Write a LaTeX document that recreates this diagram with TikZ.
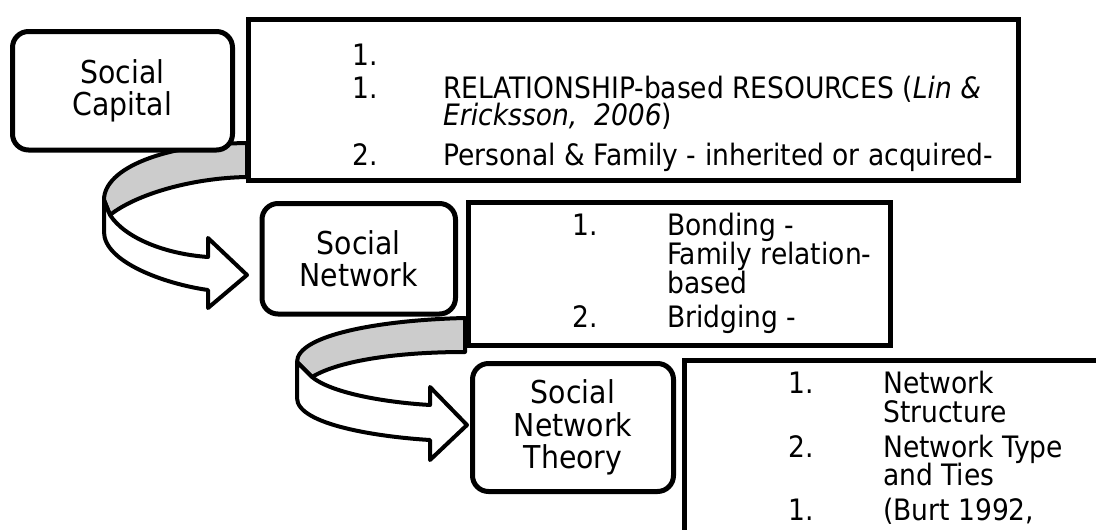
\documentclass[tikz,border=0pt]{standalone}
\usepackage{fontspec}
\setmainfont{DejaVu Sans Condensed}
\definecolor{band}{HTML}{CCCCCC}
\begin{document}
\begin{tikzpicture}[x=1pt,y=-1pt,
  box/.style={draw=black, line width=5pt, fill=white, inner sep=0pt},
  lbl/.style={box, rounded corners=16pt, align=center, font=\fontsize{31.5}{32.5}\selectfont},
  txt/.style={anchor=base west, inner sep=0pt, font=\fontsize{29.5}{30}\selectfont},
  ribbon/.style={draw=black, line width=4pt, line join=round},
]
\useasboundingbox (0,0) rectangle (1096,530);
\clip (0,0) rectangle (1096,530);
% curved arrow 1
\draw[ribbon, fill=band] (247,143) .. controls (165,144) and (104,168) .. (104,200) -- (110,215) .. controls (135,195) and (190,178) .. (247,177) -- cycle;
\draw[ribbon, fill=white] (104,200) -- (104,232) .. controls (104,262) and (165,284) .. (208,290) -- (208,308) -- (247,275) -- (208,238) -- (208,257) .. controls (165,254) and (125,238) .. (110,215) -- cycle;
% curved arrow 2
\draw[ribbon, fill=band] (465,318) .. controls (380,320) and (297,335) .. (297,362) -- (312,377) .. controls (340,360) and (400,352) .. (465,352) -- cycle;
\draw[ribbon, fill=white] (297,362) -- (297,398) .. controls (297,425) and (380,437) .. (430,440) -- (430,460) -- (467,425) -- (430,387) -- (430,405) .. controls (380,402) and (330,392) .. (312,377) -- cycle;
% boxes
\node[box, anchor=north west, minimum width=770pt, minimum height=161pt] (t1) at (245.5,16.5) {};
\node[box, anchor=north west, minimum width=422pt, minimum height=142.5pt] (t2) at (465.5,200) {};
\node[box, anchor=north west, minimum width=438pt, minimum height=202.5pt] (t3) at (682,357.5) {};
\node[lbl, minimum width=220pt, minimum height=118.5pt] (sc) at (122.5,90.75) {Social\\Capital};
\node[lbl, minimum width=193.5pt, minimum height=110.5pt] (sn) at (358.75,258.75) {Social\\Network};
\node[lbl, minimum width=201pt, minimum height=128pt] (snt) at (573,427.5) {Social\\Network\\Theory};
% text box 1
\node[txt] (a1) at (352,65) {1.};
\node[txt] (a2) at (352,98) {1.};
\node[txt] (a2t) at (443,98) {RELATIONSHIP-based RESOURCES (\textit{Lin \&}};
\node[txt] (a3t) at (443,125) {\textit{Ericksson,\ \ 2006})};
\node[txt] (a4) at (352,165) {2.};
\node[txt] (a4t) at (443,165) {Personal \& Family - inherited or acquired-};
% text box 2
\node[txt] (b1) at (572,235) {1.};
\node[txt] (b1t) at (667,235) {Bonding -};
\node[txt] (b2t) at (667,264) {Family relation-};
\node[txt] (b3t) at (667,293) {based};
\node[txt] (b4) at (572,327) {2.};
\node[txt] (b4t) at (667,327) {Bridging -};
% text box 3
\node[txt] (c1) at (788,393) {1.};
\node[txt] (c1t) at (883,393) {Network};
\node[txt] (c2t) at (883,422) {Structure};
\node[txt] (c3) at (788,457) {2.};
\node[txt] (c3t) at (883,457) {Network Type};
\node[txt] (c4t) at (883,485) {and Ties};
\node[txt] (c5) at (788,520) {1.};
\node[txt] (c5t) at (883,520) {(Burt 1992,};
\end{tikzpicture}
\end{document}
